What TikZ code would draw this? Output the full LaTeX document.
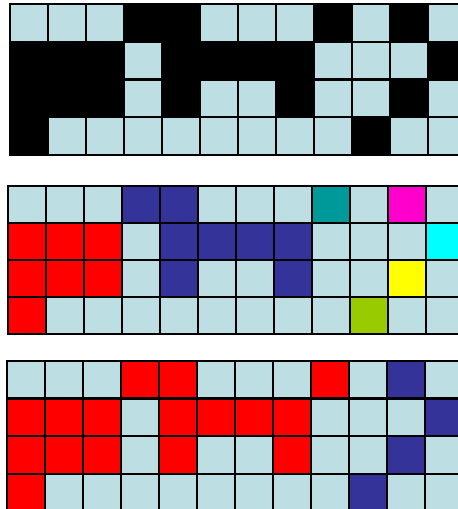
\documentclass[tikz,border=0pt]{standalone}
\usepackage{tikz}

\definecolor{cL}{RGB}{189,223,228}
\definecolor{cB}{RGB}{0,0,0}
\definecolor{cR}{RGB}{255,0,0}
\definecolor{cN}{RGB}{51,51,153}
\definecolor{cT}{RGB}{0,153,153}
\definecolor{cM}{RGB}{255,0,204}
\definecolor{cC}{RGB}{0,255,255}
\definecolor{cY}{RGB}{255,255,0}
\definecolor{cG}{RGB}{153,204,0}

\begin{document}
\begin{tikzpicture}[x=1pt, y=-1pt,
        cell/.style={draw=black, line width=2.3pt}
      ]
      \useasboundingbox (0,0) rectangle (458,509);
      \clip (0,0) rectangle (458,509);
      % top grid: black and free cells
      \foreach \line [count=\r from 0] in {
          {L,L,L,B,B,L,L,L,B,L,B,L},
          {B,B,B,L,B,B,B,B,L,L,L,B},
          {B,B,B,L,B,L,L,B,L,L,B,L},
          {B,L,L,L,L,L,L,L,L,B,L,L}}
        \foreach \c [count=\k from 0] in \line
          \draw[cell, fill=c\c] (10+38*\k, 4+37.75*\r) rectangle ++(38,37.75);
      % middle grid: labelled components
      \foreach \line [count=\r from 0] in {
          {L,L,L,N,N,L,L,L,T,L,M,L},
          {R,R,R,L,N,N,N,N,L,L,L,C},
          {R,R,R,L,N,L,L,N,L,L,Y,L},
          {R,L,L,L,L,L,L,L,L,G,L,L}}
        \foreach \c [count=\k from 0] in \line
          \draw[cell, fill=c\c] (8+38*\k, 186+37*\r) rectangle ++(38,37);
      % bottom grid: two classes
      \foreach \line [count=\r from 0] in {
          {L,L,L,R,R,L,L,L,R,L,N,L},
          {R,R,R,L,R,R,R,R,L,L,L,N},
          {R,R,R,L,R,L,L,R,L,L,N,L},
          {R,L,L,L,L,L,L,L,L,N,L,L}}
        \foreach \c [count=\k from 0] in \line
          \draw[cell, fill=c\c] (7+38*\k, 361+37.6*\r) rectangle ++(38,37.6);
    \end{tikzpicture}
\end{document}
